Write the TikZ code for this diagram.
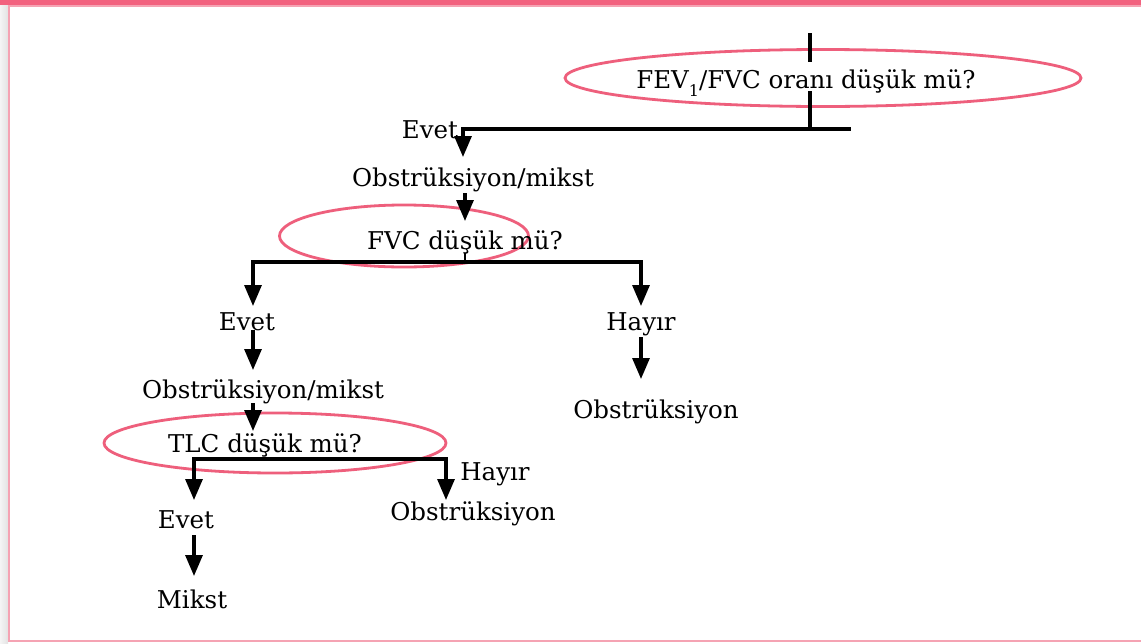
\documentclass[tikz,border=0pt]{standalone}
\usepackage{fontspec}
\setmainfont{DejaVu Serif}
\usetikzlibrary{arrows.meta,shapes.geometric}
\definecolor{barpink}{HTML}{F2627F}
\definecolor{ringpink}{HTML}{EE5F7C}
\definecolor{edgepink}{HTML}{F5A3B3}
\tikzset{
  lbl/.style={anchor=base,inner sep=0pt,font=\fontsize{24.5}{28}\selectfont},
  ring/.style={draw=ringpink,line width=2.8pt,ellipse,inner sep=0pt},
  wire/.style={line width=3.2pt,black},
  arr/.style={wire,-{Triangle[width=17pt,length=21pt]}},
}
\newcommand{\lowone}{\raisebox{-0.7ex}{\fontsize{16}{18}\selectfont 1}}
\begin{document}
\begin{tikzpicture}[x=1pt,y=-1pt]
\useasboundingbox (0,0) rectangle (1141,643);
% frame
\shade[left color=gray!8,right color=gray!22] (0,0) rectangle (8,643);
\fill[white] (9,6) rectangle (1141,640);
\fill[barpink] (0,0) rectangle (1141,5);
\fill[edgepink] (8,5) rectangle (1141,6.5);
\fill[edgepink] (8,5) rectangle (9.7,642);
\fill[edgepink] (8,640) rectangle (1141,642);

% ellipses
\node[ring,minimum width=516pt,minimum height=57pt] (r1) at (823,78) {};
\node[ring,minimum width=249pt,minimum height=62pt] (r2) at (404,236) {};
\node[ring,minimum width=342pt,minimum height=60pt] (r3) at (275,443) {};

% labels
\node[lbl] (q1) at (806,88) {FEV\lowone/FVC oranı düşük mü?};
\node[lbl] (e1) at (430,138) {Evet};
\node[lbl] (om1) at (473,186) {Obstrüksiyon/mikst};
\node[lbl] (q2) at (465,249) {FVC düşük mü?};
\node[lbl] (e2) at (247,330) {Evet};
\node[lbl] (h1) at (641,330) {Hayır};
\node[lbl] (om2) at (263,398) {Obstrüksiyon/mikst};
\node[lbl] (o1) at (656,418) {Obstrüksiyon};
\node[lbl] (q3) at (265,452) {TLC düşük mü?};
\node[lbl] (h2) at (495,480) {Hayır};
\node[lbl] (o2) at (473,520) {Obstrüksiyon};
\node[lbl] (e3) at (186,528) {Evet};
\node[lbl] (mk) at (192,608) {Mikst};

% connector coordinates
\coordinate (t0) at (810,33);
\coordinate (t1) at (810,62);
\coordinate (t2) at (810,91);
\coordinate (b1r) at (849,129);
\coordinate (b1m) at (810,129);
\coordinate (b1l) at (463,129);
\coordinate (a1) at (463,157);
\coordinate (s2) at (465,193);
\coordinate (a2) at (465,221);
\coordinate (t3) at (465,253);
\coordinate (b2m) at (465,262);
\coordinate (b2l) at (253,262);
\coordinate (b2r) at (641,262);
\coordinate (a3) at (253,306);
\coordinate (a4) at (641,306);
\coordinate (s5) at (253,330);
\coordinate (a5) at (253,370);
\coordinate (s6) at (641,337);
\coordinate (a6) at (641,379);
\coordinate (s7) at (253,403);
\coordinate (a7) at (253,431);
\coordinate (b3l) at (194,459);
\coordinate (b3r) at (446,459);
\coordinate (a8) at (194,500);
\coordinate (a9) at (446,500);
\coordinate (s10) at (194,535);
\coordinate (a10) at (194,576);

% connectors
\draw[wire] (t0) -- (t1);
\draw[wire] (t2) -- (b1m);
\draw[wire,line cap=rect] (b1r) -- (b1l);
\draw[arr] (b1l) -- (a1);
\draw[arr] (s2) -- (a2);
\draw[line width=1.2pt] (t3) -- (b2m);
\draw[arr] (b2m) -- (b2l) -- (a3);
\draw[arr] (b2m) -- (b2r) -- (a4);
\draw[arr] (s5) -- (a5);
\draw[arr] (s6) -- (a6);
\draw[arr] (s7) -- (a7);
\draw[arr] (b3r) -- (b3l) -- (a8);
\draw[arr] (b3l) -- (b3r) -- (a9);
\draw[arr] (s10) -- (a10);
\end{tikzpicture}
\end{document}
